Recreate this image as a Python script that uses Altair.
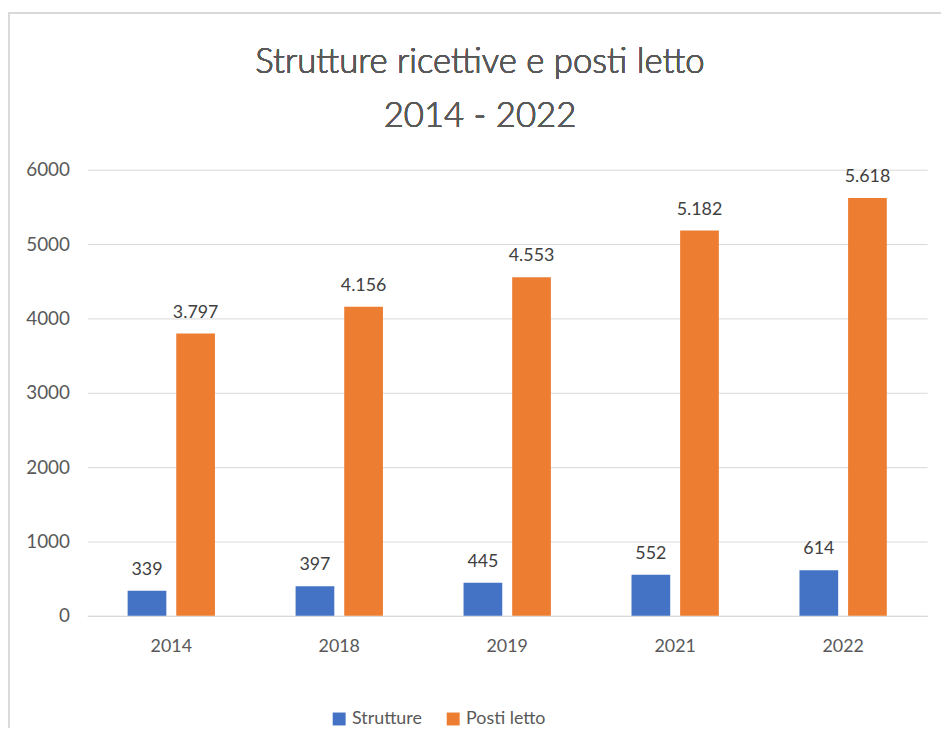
import altair as alt
import pandas as pd

years = ["2014", "2018", "2019", "2021", "2022"]
strutture = [339, 397, 445, 552, 614]
posti_letto = [3797, 4156, 4553, 5182, 5618]
series_names = ["Strutture", "Posti letto"]
colors = ["#4472C4", "#ED7D31"]
y_ticks = [0, 1000, 2000, 3000, 4000, 5000, 6000]
title_lines = ["Strutture ricettive e posti letto", "2014 - 2022"]

rows = []
for i, y in enumerate(years):
    for name, vals in zip(series_names, [strutture, posti_letto]):
        v = vals[i]
        rows.append({"anno": y, "serie": name, "valore": v,
                     "etichetta": f"{v:,}".replace(",", ".")})
df = pd.DataFrame(rows)

FONT = "Lato"
GRAY = "#595959"

x_enc = alt.X("anno:N", sort=years,
              scale=alt.Scale(paddingInner=0.48, paddingOuter=0.24),
              axis=alt.Axis(title=None, labelAngle=0, labelFontSize=18, labelColor=GRAY,
                            labelFont=FONT, ticks=False, domainColor="#d9d9d9",
                            domainWidth=1.5, labelPadding=22))
xoff = alt.XOffset("serie:N", sort=series_names,
                   scale=alt.Scale(paddingInner=0.204, paddingOuter=0))
y_enc = alt.Y("valore:Q",
              scale=alt.Scale(domain=[0, 6000], nice=False),
              axis=alt.Axis(title=None, values=y_ticks, format="d", labelFontSize=19,
                            labelColor=GRAY, labelFont=FONT, ticks=False, domain=False,
                            gridColor="#d9d9d9", labelPadding=18))
color_enc = alt.Color("serie:N", sort=series_names,
                      scale=alt.Scale(domain=series_names, range=colors),
                      legend=alt.Legend(title=None, orient="none", direction="horizontal",
                                        legendX=245, legendY=545, symbolType="square",
                                        symbolSize=170, symbolStrokeWidth=0,
                                        labelFontSize=18, labelFont=FONT, labelColor=GRAY,
                                        columnPadding=22, labelOffset=4))

bars = alt.Chart(df).mark_bar().encode(x=x_enc, xOffset=xoff, y=y_enc, color=color_enc)

labels = alt.Chart(df).mark_text(baseline="alphabetic", dy=-16, fontSize=18,
                                 font=FONT, color="#404040").encode(
    x=alt.X("anno:N", sort=years), xOffset=alt.XOffset("serie:N", sort=series_names),
    y="valore:Q", text="etichetta:N")

border_left = alt.Chart(df).mark_rule(color="#d9d9d9", strokeWidth=1.5).encode(
    x=alt.value(-79.5), y=alt.value(-157), y2=alt.value(580))
border_top = alt.Chart(df).mark_rule(color="#d9d9d9", strokeWidth=1.5).encode(
    x=alt.value(-80), x2=alt.value(870), y=alt.value(-158))

title1 = alt.Chart(df).mark_text(fontSize=35, font=FONT, fontWeight=300, color=GRAY,
                                 align="center", baseline="alphabetic").encode(
    x=alt.value(396), y=alt.value(-98), text=alt.value(title_lines[0]))
title2 = alt.Chart(df).mark_text(fontSize=35, font=FONT, fontWeight=300, color=GRAY,
                                 align="center", baseline="alphabetic").encode(
    x=alt.value(396), y=alt.value(-43), text=alt.value(title_lines[1]))

chart = alt.layer(border_left, border_top, title1, title2, bars, labels).properties(
    width=847, height=450,
    autosize=alt.AutoSizeParams(type="none"),
    padding={"left": 80, "top": 160, "right": 14, "bottom": 110},
).configure_view(stroke=None)

chart.save("out.html", embed_options={"renderer": "svg", "actions": False})
